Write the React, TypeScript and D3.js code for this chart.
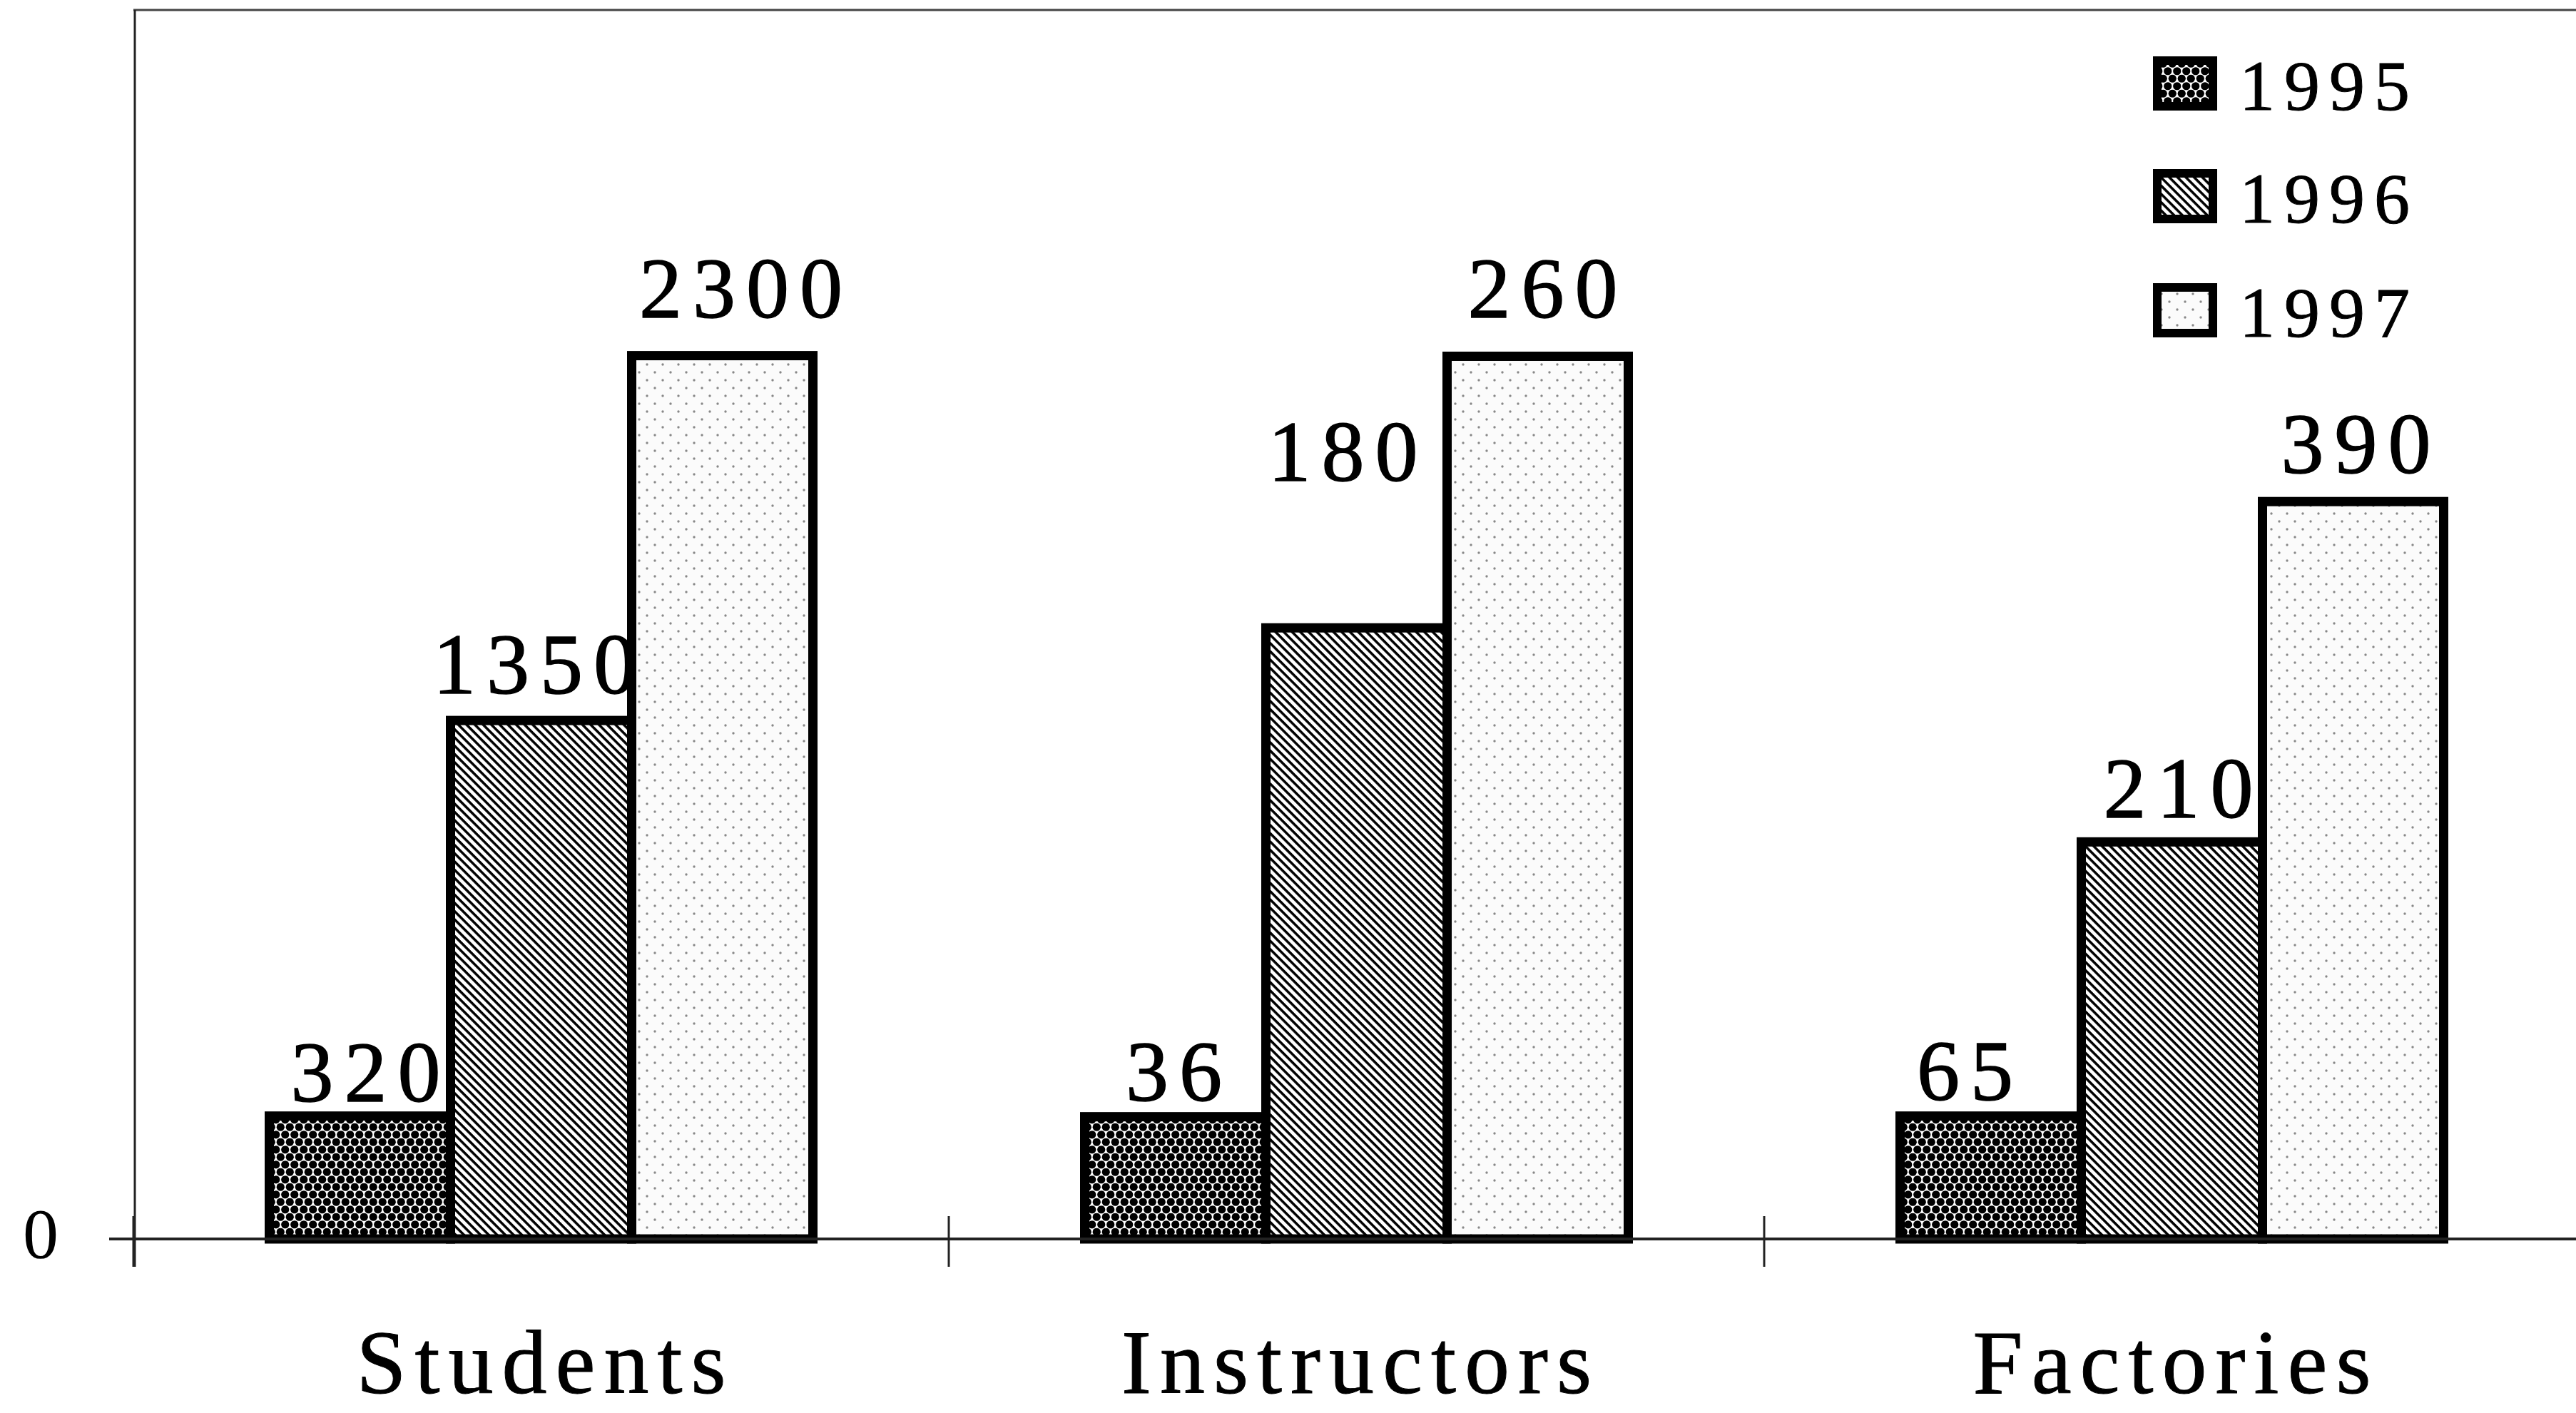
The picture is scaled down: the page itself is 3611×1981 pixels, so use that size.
import React from "react";
import * as d3 from "d3";

// ---- data ----
const categories = ["Students", "Instructors", "Factories"];
const years = ["1995", "1996", "1997"];
const values1995 = [320, 36, 65];
const values1996 = [1350, 180, 210];
const values1997 = [2300, 260, 390];
// each category group is drawn against its own value axis
const categoryAxisMax = [3200, 362, 650];
const yTickLabels = ["0"];

// ---- layout (not data) ----
const W = 3611;
const H = 1981;
const plotLeft = 187;
const plotTop = 14;
const baseY = 1737;
const bandW = 1143;
const barStroke = 13;
// value-label placement: [dx from bar centre, gap above bar top]
const labelOffsets: number[][][] = [
  [[8, 14], [-9, 32], [26, 47]],
  [[-2, 16], [-19, 200], [7, 48]],
  [[-36, 16], [9, 28], [4, 34]],
];

const seriesValues = [values1995, values1996, values1997];
const fills = ["url(#pat1995)", "url(#pat1996)", "url(#pat1997)"];
const serif = "'Liberation Serif', 'Times New Roman', serif";

export default function App() {
  const x0 = d3
    .scaleBand<string>()
    .domain(categories)
    .range([plotLeft, plotLeft + bandW * categories.length])
    .paddingInner(0)
    .paddingOuter(0);
  const x1 = d3
    .scaleBand<string>()
    .domain(years)
    .range([0, x0.bandwidth()])
    .paddingInner(0)
    .paddingOuter(0.75);
  const yScales = categoryAxisMax.map((m) =>
    d3.scaleLinear().domain([0, m]).range([baseY, plotTop])
  );

  const valueLs = 15;
  const legendRows = [117, 275, 435];

  return (
    <div style={{ position: "absolute", left: 0, top: 0 }}>
      <svg width={W} height={H} viewBox={`0 0 ${W} ${H}`} style={{ display: "block", background: "#fff" }}>
        <defs>
          <pattern id="pat1995" width="13" height="21" patternUnits="userSpaceOnUse">
            <rect width="13" height="21" fill="#fff" />
            <circle cx="3.25" cy="5.25" r="5.6" fill="#000" />
            <circle cx="9.75" cy="15.75" r="5.6" fill="#000" />
            <circle cx="16.25" cy="5.25" r="5.6" fill="#000" />
            <circle cx="-3.25" cy="15.75" r="5.6" fill="#000" />
            <circle cx="3.25" cy="26.25" r="5.6" fill="#000" />
            <circle cx="9.75" cy="-5.25" r="5.6" fill="#000" />
            <circle cx="16.25" cy="26.25" r="5.6" fill="#000" />
            <circle cx="-3.25" cy="-5.25" r="5.6" fill="#000" />
          </pattern>
          <pattern id="pat1996" width="8.2" height="8.2" patternUnits="userSpaceOnUse" patternTransform="rotate(45)">
            <rect width="8.2" height="8.2" fill="#fff" />
            <rect y="0" width="8.2" height="3.5" fill="#000" />
          </pattern>
          <pattern id="pat1997" width="22" height="22" patternUnits="userSpaceOnUse">
            <rect width="22" height="22" fill="#fbfbfb" />
            <circle cx="5" cy="5" r="1.7" fill="#888" />
            <circle cx="16" cy="16" r="1.7" fill="#888" />
          </pattern>
        </defs>

        {/* frame */}
        <line x1={plotLeft} y1={plotTop} x2={W} y2={plotTop} stroke="#444" strokeWidth={3} />
        <line x1={plotLeft + 2} y1={plotTop} x2={plotLeft + 2} y2={baseY + 39} stroke="#222" strokeWidth={3} />

        {/* bars */}
        {categories.map((cat, ci) =>
          years.map((yr, si) => {
            const v = seriesValues[si][ci];
            const y = yScales[ci];
            const bx = (x0(cat) as number) + (x1(yr) as number);
            const bw = x1.bandwidth();
            return (
              <rect
                key={cat + yr}
                x={bx}
                y={y(v)}
                width={bw}
                height={baseY - y(v)}
                fill={fills[si]}
                stroke="#000"
                strokeWidth={barStroke}
              />
            );
          })
        )}

        {/* baseline */}
        <line x1={153} y1={baseY} x2={W} y2={baseY} stroke="#222" strokeWidth={4} />
        {/* category ticks */}
        {categories.map((cat) => (
          <line
            key={"t" + cat}
            x1={x0(cat) as number}
            y1={baseY - 32}
            x2={x0(cat) as number}
            y2={baseY + 39}
            stroke="#222"
            strokeWidth={3}
          />
        ))}

        {/* value labels */}
        {categories.map((cat, ci) =>
          years.map((yr, si) => {
            const v = seriesValues[si][ci];
            const y = yScales[ci];
            const cx = (x0(cat) as number) + (x1(yr) as number) + x1.bandwidth() / 2;
            const [dx, gap] = labelOffsets[ci][si];
            return (
              <text
                key={"l" + cat + yr}
                x={cx + dx + valueLs / 2}
                y={y(v) - barStroke / 2 - gap}
                textAnchor="middle"
                fontFamily={serif}
                fontSize={120}
                letterSpacing={valueLs}
                fill="#000"
                stroke="#000"
                strokeWidth={1.5}
              >
                {v}
              </text>
            );
          })
        )}

        {/* y tick label */}
        {yTickLabels.map((t) => (
          <text
            key={"y" + t}
            x={57}
            y={baseY + 26}
            textAnchor="middle"
            fontFamily={serif}
            fontSize={100}
            fill="#000"
          >
            {t}
          </text>
        ))}

        {/* category labels */}
        {categories.map((cat) => (
          <text
            key={"c" + cat}
            x={(x0(cat) as number) + x0.bandwidth() / 2 + 6}
            y={1953}
            textAnchor="middle"
            fontFamily={serif}
            fontSize={126}
            letterSpacing={12}
            fill="#000"
            stroke="#000"
            strokeWidth={1}
          >
            {cat}
          </text>
        ))}

        {/* legend */}
        {years.map((yr, si) => (
          <g key={"lg" + yr}>
            <rect
              x={3024}
              y={legendRows[si] - 32}
              width={78}
              height={64}
              fill={fills[si]}
              stroke="#000"
              strokeWidth={12}
            />
            <text
              x={3139}
              y={legendRows[si] + 37}
              fontFamily={serif}
              fontSize={100}
              letterSpacing={13}
              fill="#000"
              stroke="#000"
              strokeWidth={1}
            >
              {yr}
            </text>
          </g>
        ))}
      </svg>
    </div>
  );
}
